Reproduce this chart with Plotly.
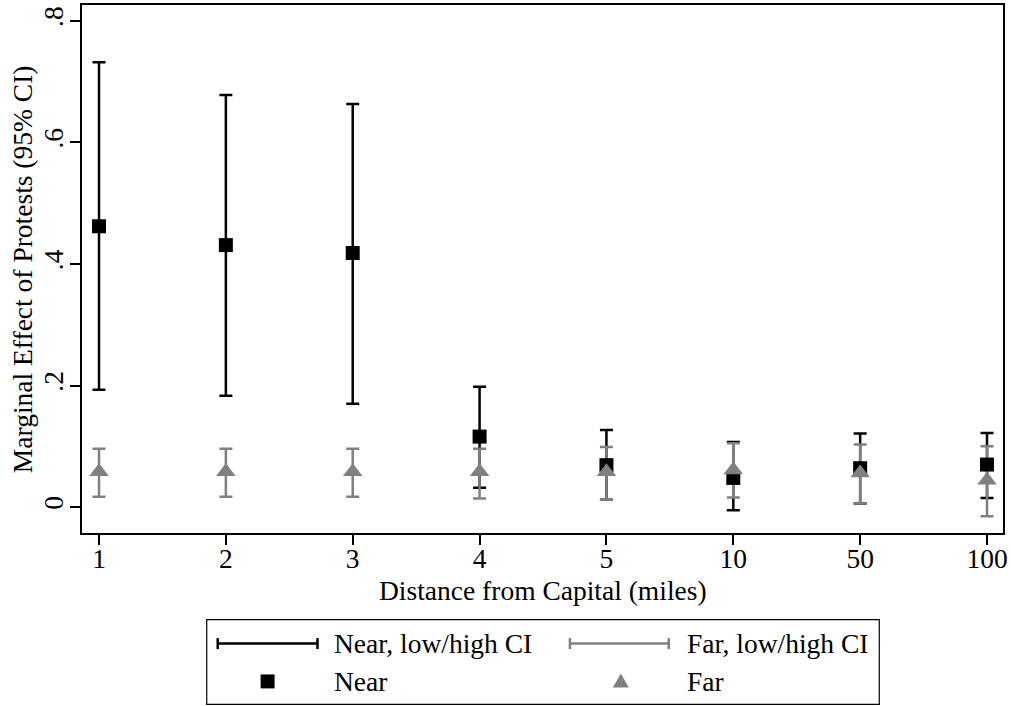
import plotly.graph_objects as go

# ---- data ----
distance = ["1", "2", "3", "4", "5", "10", "50", "100"]
near_est = [0.462, 0.431, 0.418, 0.116, 0.069, 0.048, 0.064, 0.070]
near_lo = [0.193, 0.183, 0.170, 0.032, 0.012, -0.005, 0.006, 0.015]
near_hi = [0.732, 0.678, 0.663, 0.198, 0.127, 0.107, 0.121, 0.122]
far_est = [0.058, 0.058, 0.058, 0.058, 0.058, 0.061, 0.056, 0.044]
far_lo = [0.017, 0.017, 0.017, 0.014, 0.012, 0.016, 0.006, -0.015]
far_hi = [0.096, 0.096, 0.096, 0.096, 0.099, 0.105, 0.103, 0.100]

y_tickvals = [0, 0.2, 0.4, 0.6, 0.8]
y_ticktext = ["0", ".2", ".4", ".6", ".8"]

x_title = "Distance from Capital (miles)"
y_title = "Marginal Effect of Protests (95% CI)"
legend_labels = ["Near, low/high CI", "Far, low/high CI", "Near", "Far"]

BLACK = "#000000"
GRAY = "#808080"
FONT = "Liberation Serif"
FS = 27.5

W, H = 1011, 706
ML, MR, MT, MB = 82, 6, 3, 173
PW, PH = W - ML - MR, H - MT - MB


def px(x):
    return (x - ML) / PW


def py(y):
    return (H - MB - y) / PH


fig = go.Figure()

# CI traces (error bars, invisible markers)
fig.add_trace(go.Scatter(
    x=distance, y=near_est, mode="markers",
    marker=dict(size=1, opacity=0), showlegend=False, hoverinfo="skip",
    error_y=dict(type="data", symmetric=False,
                 array=[h - e for h, e in zip(near_hi, near_est)],
                 arrayminus=[e - l for e, l in zip(near_est, near_lo)],
                 color=BLACK, thickness=2.5, width=6.5)))
fig.add_trace(go.Scatter(
    x=distance, y=far_est, mode="markers",
    marker=dict(size=1, opacity=0), showlegend=False, hoverinfo="skip",
    error_y=dict(type="data", symmetric=False,
                 array=[h - e for h, e in zip(far_hi, far_est)],
                 arrayminus=[e - l for e, l in zip(far_est, far_lo)],
                 color=GRAY, thickness=2.5, width=6.5)))
# point estimates
fig.add_trace(go.Scatter(
    x=distance, y=near_est, mode="markers", showlegend=False,
    marker=dict(symbol="square", size=14, color=BLACK, line=dict(width=0))))
fig.add_trace(go.Scatter(
    x=distance, y=far_est, mode="markers", showlegend=False,
    marker=dict(symbol="triangle-up", size=17, color=GRAY, line=dict(width=0))))

shapes = []
annotations = []

# legend box
shapes.append(dict(type="rect", xref="paper", yref="paper",
                   x0=px(207), x1=px(881), y0=py(705), y1=py(620),
                   line=dict(color=BLACK, width=1.2), fillcolor="white", layer="above"))


def capline(x0, x1, y, color):
    shapes.append(dict(type="line", xref="paper", yref="paper",
                       x0=px(x0), x1=px(x1), y0=py(y), y1=py(y),
                       line=dict(color=color, width=2.5)))
    for xx in (x0, x1):
        shapes.append(dict(type="line", xref="paper", yref="paper",
                           x0=px(xx), x1=px(xx), y0=py(y - 5.5), y1=py(y + 5.5),
                           line=dict(color=color, width=2.5)))


capline(218, 318, 644, BLACK)
capline(571, 670, 644, GRAY)
# square
shapes.append(dict(type="rect", xref="paper", yref="paper",
                   x0=px(261), x1=px(275), y0=py(689), y1=py(675),
                   line=dict(width=0), fillcolor=BLACK))
# triangle
tx, ty = 622, 682
path = "M {} {} L {} {} L {} {} Z".format(
    px(tx - 8), py(ty + 6), px(tx + 8), py(ty + 6), px(tx), py(ty - 8))
shapes.append(dict(type="path", xref="paper", yref="paper", path=path,
                   line=dict(width=0), fillcolor=GRAY))

for label, (lx, ly) in zip(legend_labels, [(333, 644), (686, 644), (333, 682), (686, 682)]):
    annotations.append(dict(text=label, xref="paper", yref="paper",
                            x=px(lx), y=py(ly), xanchor="left", yanchor="middle",
                            showarrow=False, font=dict(family=FONT, size=FS, color=BLACK)))

# axis titles
annotations.append(dict(text=x_title, xref="paper", yref="paper",
                        x=0.5, y=py(591), xanchor="center", yanchor="middle",
                        showarrow=False, font=dict(family=FONT, size=FS, color=BLACK)))
annotations.append(dict(text=y_title, xref="paper", yref="paper", textangle=-90,
                        x=px(22), y=py(268), xanchor="center", yanchor="middle",
                        showarrow=False, font=dict(family=FONT, size=FS, color=BLACK)))

fig.update_layout(
    width=W, height=H,
    margin=dict(l=ML, r=MR, t=MT, b=MB, pad=0),
    paper_bgcolor="white", plot_bgcolor="white",
    font=dict(family=FONT, size=FS, color=BLACK),
    showlegend=False,
    shapes=shapes, annotations=annotations,
    xaxis=dict(type="category", range=[-0.134, 7.126],
               showgrid=False, zeroline=False,
               showline=True, linecolor=BLACK, linewidth=1.5, mirror=True,
               ticks="outside", ticklen=10, tickwidth=1.5, tickcolor=BLACK,
               ticklabelstandoff=-10,
               tickfont=dict(family=FONT, size=FS, color=BLACK)),
    yaxis=dict(range=[-0.0426, 0.826], tickvals=y_tickvals, ticktext=y_ticktext,
               tickangle=-90,
               showgrid=False, zeroline=False,
               showline=True, linecolor=BLACK, linewidth=1.5, mirror=True,
               ticks="outside", ticklen=10, tickwidth=1.5, tickcolor=BLACK,
               ticklabelstandoff=-4,
               tickfont=dict(family=FONT, size=FS, color=BLACK)),
)

fig.write_html("out.html", config={"displayModeBar": False},
               post_script="document.body.style.margin='0';")
